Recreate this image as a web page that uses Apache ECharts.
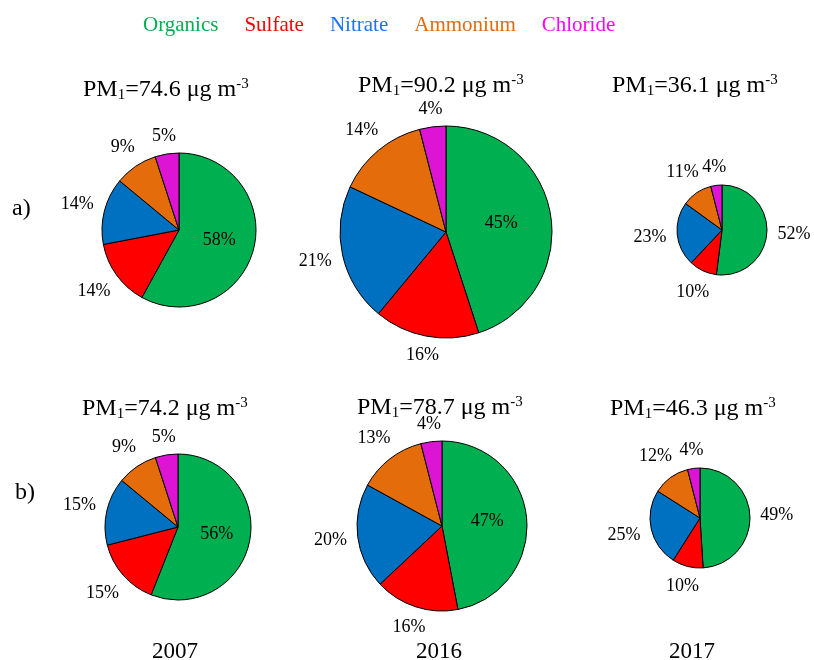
<!DOCTYPE html>
<html>
<head>
<meta charset="utf-8">
<script src="https://cdn.jsdelivr.net/npm/echarts@6/dist/echarts.min.js"></script>
<style>html,body{margin:0;padding:0;background:#fff}#c{width:814px;height:660px}</style>
</head>
<body>
<div id="c"></div>
<script>
// ---- data ----
var components = ['Organics', 'Sulfate', 'Nitrate', 'Ammonium', 'Chloride'];
var years = ['2007', '2016', '2017'];
var rows = ['a)', 'b)'];
var pmA = ['74.6', '90.2', '36.1'];
var pmB = ['74.2', '78.7', '46.3'];
var a2007 = [58, 14, 14, 9, 5];
var a2016 = [45, 16, 21, 14, 4];
var a2017 = [52, 10, 23, 11, 4];
var b2007 = [56, 15, 15, 9, 5];
var b2016 = [47, 16, 20, 13, 4];
var b2017 = [49, 10, 25, 12, 4];

// ---- styles / layout ----
var FONT = '"Liberation Serif", "Times New Roman", serif';
var sliceColors = ['#00B050', '#FF0000', '#0070C0', '#E46C0A', '#DD14D4'];
var legendColors = ['#00B050', '#FF0000', '#1874FF', '#E36C09', '#FF00FF'];

var pies = [
  {vals: a2007, center: [179, 230], r: 77, inside: true},
  {vals: a2016, center: [446, 232], r: 106, inside: true},
  {vals: a2017, center: [722, 230], r: 45, inside: false},
  {vals: b2007, center: [178, 527], r: 73, inside: true},
  {vals: b2016, center: [442, 526], r: 85, inside: true},
  {vals: b2017, center: [700, 518], r: 50, inside: false}
];

var GAP = 7, PAD = 3;

// place outside labels just beyond the rim along each slice's mid-angle (spreadsheet-style)
function layoutLabel(params) {
  var p = pies[params.seriesIndex];
  if (!p) return {};
  if (params.dataIndex === 0 && p.inside) return {};
  var vals = p.vals, total = 0, cum = 0, i;
  for (i = 0; i < vals.length; i++) total += vals[i];
  for (i = 0; i < params.dataIndex; i++) cum += vals[i];
  var theta = 2 * Math.PI * (cum + vals[params.dataIndex] / 2) / total;
  var dx = Math.sin(theta), dy = -Math.cos(theta);
  var w = params.labelRect.width, h = params.labelRect.height;
  var d = p.r + GAP + (w / 2 + PAD) * Math.abs(dx) + (h / 2) * Math.abs(dy);
  return {x: p.center[0] + d * dx, y: p.center[1] + d * dy, align: 'center', verticalAlign: 'middle'};
}

var series = pies.map(function (p, k) {
  return {
    type: 'pie',
    name: 'pie' + k,
    center: p.center,
    radius: p.r,
    startAngle: 90,
    clockwise: true,
    avoidLabelOverlap: false,
    silent: true,
    itemStyle: {borderColor: '#000', borderWidth: 1},
    label: {
      show: true,
      position: 'outside',
      formatter: '{c}%',
      fontFamily: FONT,
      fontSize: 18,
      color: '#000'
    },
    labelLine: {show: false, length: 10, length2: 0},
    labelLayout: layoutLabel,
    emphasis: {disabled: true},
    data: components.map(function (n, i) {
      var d = {name: n, value: p.vals[i], itemStyle: {color: sliceColors[i]}};
      if (i === 0 && p.inside) d.label = {position: 'inside'};
      return d;
    })
  };
});

function pmTitle(v, left, top) {
  return {
    text: 'PM{sub|1}=' + v + ' μg m{sup|-3}',
    left: left, top: top, padding: 0,
    textStyle: {
      fontFamily: FONT, fontSize: 24, fontWeight: 'normal', color: '#000', lineHeight: 26,
      rich: {
        sub: {fontFamily: FONT, fontSize: 15, verticalAlign: 'bottom', lineHeight: 26, padding: [9, 0, 0, 0]},
        sup: {fontFamily: FONT, fontSize: 15, verticalAlign: 'top', lineHeight: 26, padding: [0, 0, 9, 0]}
      }
    }
  };
}

var titleLeftA = [83, 358, 612];
var titleTopA = [77, 73, 73];
var titleLeftB = [82, 357, 610];
var titleTopB = [396, 395, 396];
var titles = [];
pmA.forEach(function (v, i) { titles.push(pmTitle(v, titleLeftA[i], titleTopA[i])); });
pmB.forEach(function (v, i) { titles.push(pmTitle(v, titleLeftB[i], titleTopB[i])); });
var rowStyle = {fontFamily: FONT, fontSize: 24, fontWeight: 'normal', color: '#000'};
var yearStyle = {fontFamily: FONT, fontSize: 23, fontWeight: 'normal', color: '#000'};
titles.push({text: rows[0], left: 12, top: 197, padding: 0, textStyle: rowStyle});
titles.push({text: rows[1], left: 15, top: 481, padding: 0, textStyle: rowStyle});
var yearLeft = [152, 416, 669];
years.forEach(function (y, i) {
  titles.push({text: y, left: yearLeft[i], top: 640, padding: 0, textStyle: yearStyle});
});

var option = {
  backgroundColor: '#fff',
  animation: false,
  title: titles,
  legend: {
    left: 138, top: 15, padding: 0,
    icon: 'none', itemWidth: 0, itemHeight: 0, itemGap: 21,
    selectedMode: false,
    textStyle: {fontFamily: FONT, fontSize: 21},
    data: components.map(function (n, i) {
      return {name: n, textStyle: {color: legendColors[i]}};
    })
  },
  series: series
};

var chart = echarts.init(document.getElementById('c'), null, {renderer: 'canvas'});
chart.setOption(option);
</script>
</body>
</html>
